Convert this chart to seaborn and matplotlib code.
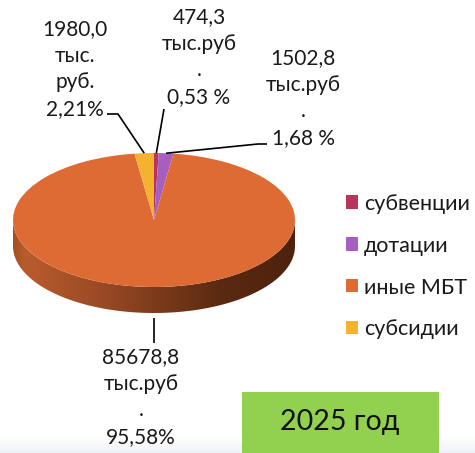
import numpy as np
import matplotlib
matplotlib.use('Agg')
import matplotlib.pyplot as plt
from matplotlib.patches import Polygon, Rectangle
from matplotlib.colors import LinearSegmentedColormap
import seaborn as sns

# data
categories = ['субвенции', 'дотации', 'иные МБТ', 'субсидии']
values = [474.3, 1502.8, 85678.8, 1980.0]
shares = ['0,53 %', '1,68 %', '95,58%', '2,21%']
colors = ['#b8345a', '#a65fc0', '#de6a34', '#f5b22f']
year_label = '2025 год'

sns.set_theme(style='white')
plt.rcParams['font.family'] = ['Lato', 'DejaVu Sans']

W, H = 475, 453
CX, CY, A, B = 154, 220, 141, 67      # top ellipse of the pie, in pixels
DEPTH = 26 / B                         # side thickness in y-units

def P(px, py):
    """pixel position -> pie data units"""
    return ((px - CX) / A, (CY - py) / B)

fig = plt.figure(figsize=(W / 100, H / 100), dpi=100)
ax = fig.add_axes([0, 0, 1, 1])

wedges, _ = ax.pie(values, colors=colors, startangle=90, counterclock=False,
                   radius=1, center=(0, 0), frame=True,
                   wedgeprops=dict(linewidth=0, zorder=3))

# side of the 3d pie: lower half band, shaded left -> right
t = np.linspace(np.pi, 2 * np.pi, 200)
band = np.vstack([np.column_stack([np.cos(t), np.sin(t)]),
                  np.column_stack([np.cos(t[::-1]), np.sin(t[::-1]) - DEPTH])])
clip = Polygon(band, closed=True, facecolor='none', edgecolor='none')
ax.add_patch(clip)
side_cmap = LinearSegmentedColormap.from_list(
    'side', [(0, '#a44f27'), (0.04, '#b95c2d'), (0.3, '#9c4a25'),
             (0.55, '#763819'), (0.75, '#5a2911'), (1, '#4e220d')])
grad = np.linspace(0, 1, 256).reshape(1, -1)
img = ax.imshow(grad, cmap=side_cmap, extent=(-1, 1, -1 - DEPTH, 0),
                aspect='auto', zorder=2, interpolation='bilinear')
img.set_clip_path(clip)

# faint background shade at the bottom edge
bg = np.linspace(0, 1, 64).reshape(-1, 1)
bg_cmap = LinearSegmentedColormap.from_list('bg', ['#ffffff', '#eef2f8'])
x0, y0 = P(0, 436)
x1, y1 = P(W, H)
ax.imshow(bg, cmap=bg_cmap, extent=(x0, x1, y1, y0), aspect='auto', zorder=0)

ax.set_xlim(P(0, 0)[0], P(W, 0)[0])
ax.set_ylim(P(0, H)[1], P(0, 0)[1])
ax.set_aspect('auto')
ax.axis('off')

def edge_point(w, drop=0.0):
    mid = np.deg2rad((w.theta1 + w.theta2) / 2)
    return np.cos(mid), np.sin(mid) - drop

line_kw = dict(color='black', lw=1.2, zorder=5, solid_capstyle='butt')
txt_kw = dict(ha='center', va='center', fontsize=15, color='#1a1a1a',
              linespacing=1.42, zorder=6)

# субсидии
ex, ey = edge_point(wedges[3])
k1, k2 = P(118, 114), P(107, 114)
ax.plot([ex, k1[0], k2[0]], [ey, k1[1], k2[1]], **line_kw)
ax.text(*P(75, 69), '1980,0\nтыс.\nруб.\n' + shares[3], **txt_kw)

# субвенции
ex, ey = edge_point(wedges[0])
k1 = P(164, 109)
ax.plot([ex, k1[0]], [ey, k1[1]], **line_kw)
ax.text(*P(199, 57), '474,3\nтыс.руб\n.\n' + shares[0], **txt_kw)

# дотации
ex, ey = edge_point(wedges[1])
k1, k2 = P(258, 144), P(267, 144)
ax.plot([ex, k1[0], k2[0]], [ey, k1[1], k2[1]], **line_kw)
ax.text(*P(303, 98), '1502,8\nтыс.руб\n.\n' + shares[1], **txt_kw)

# иные МБТ
ex, ey = edge_point(wedges[2], drop=DEPTH + 5 / B)
k1 = P(154, 343)
ax.plot([ex, ex], [ey, k1[1]], **line_kw)
ax.text(*P(141, 397), '85678,8\nтыс.руб\n.\n' + shares[2], **txt_kw)

leg = ax.legend(wedges, categories, loc='upper left',
                bbox_to_anchor=(337 / W, 1 - 185 / H), frameon=False,
                fontsize=15.5, handlelength=0.56, handleheight=0.56,
                handletextpad=0.28, labelspacing=1.02, borderaxespad=0)
for txt in leg.get_texts():
    txt.set_color('#1a1a1a')

fig.patches.append(Rectangle((242 / W, 0), 197 / W, 61 / H,
                             transform=fig.transFigure, facecolor='#92d050',
                             edgecolor='none', zorder=1))
fig.text(340 / W, 1 - 422 / H, year_label, ha='center', va='center',
         fontsize=20.5, color='#111111', zorder=2)

fig.savefig('out.png', dpi=100)
